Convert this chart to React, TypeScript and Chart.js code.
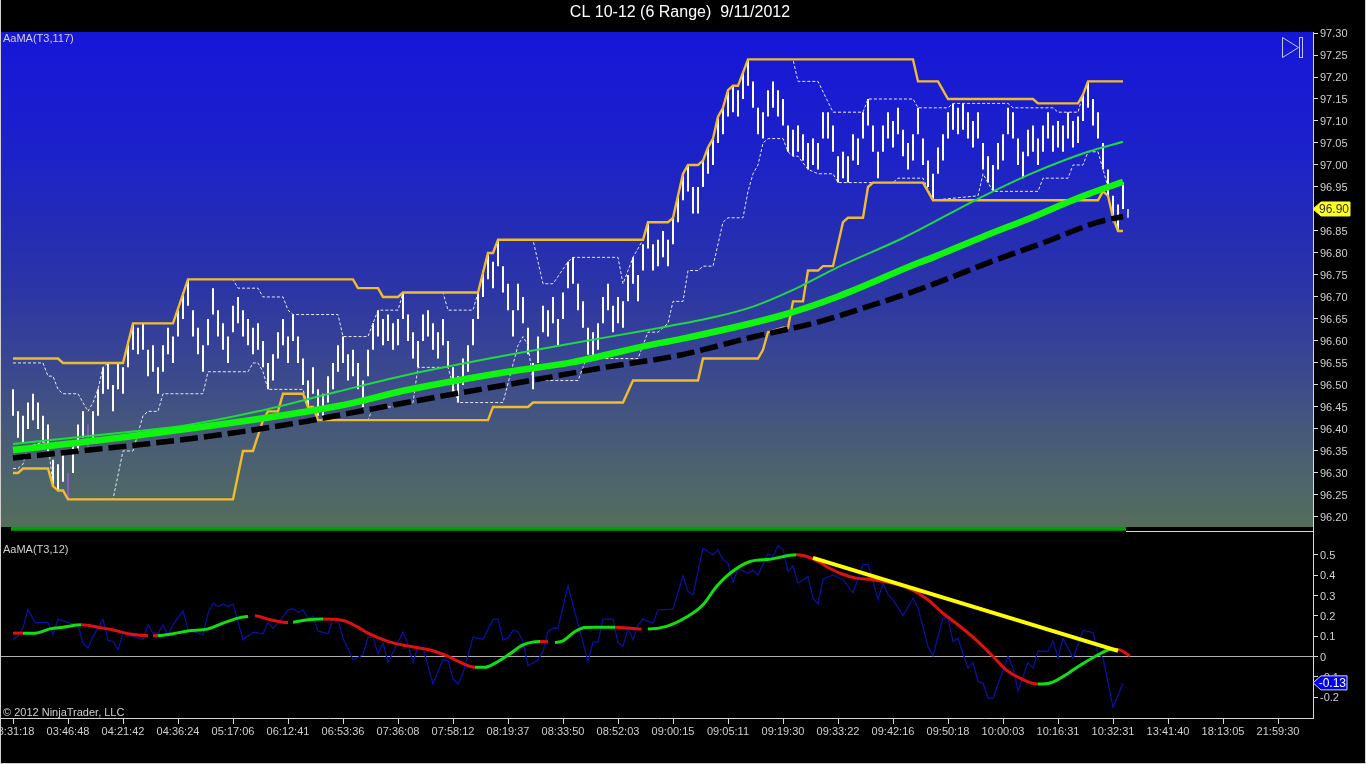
import React, { useEffect, useRef } from 'react';
import { Chart, registerables } from 'chart.js';

Chart.register(...registerables);

// range bars, one per index
const barHighs = [
  96.49, 96.44, 96.43, 96.46, 96.48, 96.46, 96.43, 96.41, 96.33, 96.32,
  96.34, 96.30, 96.36, 96.41, 96.44, 96.41, 96.44, 96.49, 96.54, 96.55,
  96.50, 96.55, 96.54, 96.60, 96.64, 96.63, 96.64, 96.58, 96.59, 96.54,
  96.59, 96.63, 96.61, 96.67, 96.71, 96.74, 96.67, 96.63, 96.59, 96.65,
  96.72, 96.67, 96.64, 96.61, 96.68, 96.70, 96.67, 96.65, 96.63, 96.64,
  96.60, 96.55, 96.57, 96.62, 96.65, 96.61, 96.66, 96.61, 96.56, 96.51,
  96.54, 96.49, 96.48, 96.52, 96.55, 96.59, 96.61, 96.57, 96.58, 96.55,
  96.51, 96.58, 96.64, 96.67, 96.65, 96.66, 96.64, 96.65, 96.71, 96.66,
  96.62, 96.60, 96.66, 96.67, 96.64, 96.62, 96.65, 96.60, 96.54, 96.52,
  96.56, 96.59, 96.65, 96.71, 96.76, 96.80, 96.78, 96.83, 96.77, 96.73,
  96.67, 96.73, 96.70, 96.63, 96.55, 96.61, 96.68, 96.67, 96.70, 96.65,
  96.71, 96.78, 96.79, 96.73, 96.69, 96.63, 96.62, 96.64, 96.70, 96.73,
  96.68, 96.70, 96.69, 96.75, 96.79, 96.75, 96.82, 96.87, 96.82, 96.83,
  96.85, 96.83, 96.88, 96.93, 96.98, 97.00, 96.95, 96.95, 97.01, 97.04,
  97.06, 97.11, 97.13, 97.17, 97.18, 97.17, 97.21, 97.24, 97.19, 97.13,
  97.12, 97.17, 97.19, 97.17, 97.15, 97.09, 97.08, 97.09, 97.07, 97.05,
  97.06, 97.05, 97.12, 97.12, 97.09, 97.02, 97.03, 97.02, 97.07, 97.06,
  97.12, 97.15, 97.09, 97.03, 97.09, 97.12, 97.10, 97.13, 97.08, 97.05,
  97.07, 97.13, 97.06, 97.01, 96.98, 97.04, 97.07, 97.12, 97.14, 97.13,
  97.14, 97.12, 97.10, 97.12, 97.05, 97.02, 97.00, 97.05, 97.07, 97.13,
  97.12, 97.06, 97.03, 97.08, 97.09, 97.06, 97.09, 97.12, 97.09, 97.10,
  97.09, 97.12, 97.10, 97.11, 97.16, 97.19, 97.15, 97.12, 97.05, 96.99,
  96.93, 96.91, 96.96, 96.90,
];
const barLows = [
  96.43, 96.38, 96.37, 96.40, 96.42, 96.40, 96.37, 96.35, 96.27, 96.26,
  96.28, 96.24, 96.30, 96.35, 96.38, 96.35, 96.38, 96.43, 96.48, 96.49,
  96.44, 96.49, 96.48, 96.54, 96.58, 96.57, 96.58, 96.52, 96.53, 96.48,
  96.53, 96.57, 96.55, 96.61, 96.65, 96.68, 96.61, 96.57, 96.53, 96.59,
  96.66, 96.61, 96.58, 96.55, 96.62, 96.64, 96.61, 96.59, 96.57, 96.58,
  96.54, 96.49, 96.51, 96.56, 96.59, 96.55, 96.60, 96.55, 96.50, 96.45,
  96.48, 96.43, 96.42, 96.46, 96.49, 96.53, 96.55, 96.51, 96.52, 96.49,
  96.45, 96.52, 96.58, 96.61, 96.59, 96.60, 96.58, 96.59, 96.65, 96.60,
  96.56, 96.54, 96.60, 96.61, 96.58, 96.56, 96.59, 96.54, 96.48, 96.46,
  96.50, 96.53, 96.59, 96.65, 96.70, 96.74, 96.72, 96.77, 96.71, 96.67,
  96.61, 96.67, 96.64, 96.57, 96.49, 96.55, 96.62, 96.61, 96.64, 96.59,
  96.65, 96.72, 96.73, 96.67, 96.63, 96.57, 96.56, 96.58, 96.64, 96.67,
  96.62, 96.64, 96.63, 96.69, 96.73, 96.69, 96.76, 96.81, 96.76, 96.77,
  96.79, 96.77, 96.82, 96.87, 96.92, 96.94, 96.89, 96.89, 96.95, 96.98,
  97.00, 97.05, 97.07, 97.11, 97.12, 97.11, 97.15, 97.18, 97.13, 97.07,
  97.06, 97.11, 97.13, 97.11, 97.09, 97.03, 97.02, 97.03, 97.01, 96.99,
  97.00, 96.99, 97.06, 97.06, 97.03, 96.96, 96.97, 96.96, 97.01, 97.00,
  97.06, 97.09, 97.03, 96.97, 97.03, 97.06, 97.04, 97.07, 97.02, 96.99,
  97.01, 97.07, 97.00, 96.95, 96.92, 96.98, 97.01, 97.06, 97.08, 97.07,
  97.08, 97.06, 97.04, 97.06, 96.99, 96.96, 96.94, 96.99, 97.01, 97.07,
  97.06, 97.00, 96.97, 97.02, 97.03, 97.00, 97.03, 97.06, 97.03, 97.04,
  97.03, 97.06, 97.04, 97.05, 97.10, 97.13, 97.09, 97.06, 96.99, 96.93,
  96.87, 96.85, 96.90, 96.88,
];
const purpleBars = [11, 15];
const lastBar = 223;

// outer price channel (orange)
const upperX = [0, 9, 10, 22, 24, 32, 35, 68, 69, 73, 74, 77, 78, 93, 95, 96, 97, 126, 127, 131, 132, 133, 134, 135, 137, 138, 139, 140, 141, 142, 143, 144, 145, 146, 147, 180, 181, 185, 187, 204, 205, 213, 214, 215, 222];
const upperY = [96.56, 96.56, 96.55, 96.55, 96.64, 96.64, 96.74, 96.74, 96.72, 96.72, 96.70, 96.70, 96.71, 96.71, 96.80, 96.80, 96.83, 96.83, 96.87, 96.87, 96.88, 96.93, 96.98, 97.00, 97.00, 97.01, 97.04, 97.06, 97.11, 97.13, 97.17, 97.18, 97.18, 97.21, 97.24, 97.24, 97.19, 97.19, 97.15, 97.15, 97.14, 97.14, 97.16, 97.19, 97.19];
const lowerX = [0, 1, 2, 7, 8, 9, 10, 11, 44, 46, 48, 50, 51, 53, 54, 58, 59, 60, 61, 95, 96, 103, 104, 122, 124, 137, 138, 149, 150, 151, 154, 155, 156, 158, 159, 161, 162, 164, 166, 167, 170, 171, 172, 182, 184, 217, 218, 219, 220, 221, 222];
const lowerY = [96.30, 96.30, 96.31, 96.31, 96.27, 96.26, 96.26, 96.24, 96.24, 96.35, 96.35, 96.42, 96.44, 96.44, 96.48, 96.48, 96.45, 96.45, 96.42, 96.42, 96.45, 96.45, 96.46, 96.46, 96.51, 96.51, 96.56, 96.56, 96.58, 96.62, 96.63, 96.63, 96.69, 96.69, 96.76, 96.76, 96.77, 96.77, 96.87, 96.88, 96.88, 96.95, 96.96, 96.96, 96.92, 96.92, 96.94, 96.93, 96.88, 96.85, 96.85];

// inner channel (white dashes)
const shortUpperX = [0, 6, 7, 8, 9, 10, 13, 15, 16, 17, 18, 19, 22, 24, 32, 35, 44, 45, 49, 50, 54, 55, 56, 65, 66, 71, 73, 77, 78, 86, 87, 92, 93, 95, 96, 97, 104, 106, 108, 111, 112, 121, 122, 124, 126, 127, 131, 132, 133, 134, 135, 137, 138, 139, 140, 141, 142, 143, 144, 145, 146, 147, 156, 157, 161, 164, 170, 171, 180, 181, 187, 188, 199, 200, 208, 209, 213, 214, 215, 222];
const shortUpperY = [96.55, 96.55, 96.52, 96.52, 96.49, 96.48, 96.48, 96.44, 96.46, 96.49, 96.54, 96.55, 96.55, 96.64, 96.64, 96.74, 96.74, 96.72, 96.72, 96.70, 96.70, 96.67, 96.66, 96.66, 96.61, 96.61, 96.67, 96.67, 96.71, 96.71, 96.67, 96.67, 96.71, 96.80, 96.80, 96.83, 96.83, 96.73, 96.73, 96.78, 96.79, 96.79, 96.73, 96.79, 96.83, 96.87, 96.87, 96.88, 96.93, 96.98, 97.00, 97.00, 97.01, 97.04, 97.06, 97.11, 97.13, 97.17, 97.18, 97.18, 97.21, 97.24, 97.24, 97.19, 97.19, 97.12, 97.12, 97.15, 97.15, 97.13, 97.13, 97.14, 97.14, 97.13, 97.13, 97.12, 97.12, 97.16, 97.19, 97.19];
const shortLowerX = [0, 1, 2, 3, 6, 7, 8, 9, 10, 11, 20, 22, 24, 26, 27, 29, 30, 38, 39, 47, 48, 49, 50, 51, 58, 59, 60, 61, 71, 72, 76, 80, 81, 87, 89, 98, 101, 102, 103, 104, 113, 115, 116, 125, 127, 129, 131, 132, 134, 135, 137, 138, 140, 142, 143, 146, 147, 148, 149, 150, 151, 154, 155, 156, 157, 159, 161, 164, 165, 176, 177, 182, 184, 193, 194, 195, 196, 205, 206, 211, 212, 214, 215, 217, 218, 219];
const shortLowerY = [96.31, 96.31, 96.32, 96.36, 96.37, 96.37, 96.27, 96.26, 96.26, 96.24, 96.24, 96.35, 96.35, 96.43, 96.44, 96.44, 96.48, 96.48, 96.53, 96.53, 96.55, 96.55, 96.53, 96.49, 96.49, 96.45, 96.45, 96.42, 96.42, 96.45, 96.45, 96.46, 96.54, 96.54, 96.46, 96.46, 96.59, 96.61, 96.59, 96.51, 96.51, 96.57, 96.56, 96.56, 96.62, 96.62, 96.64, 96.69, 96.69, 96.76, 96.76, 96.77, 96.77, 96.87, 96.88, 96.88, 96.94, 96.98, 97.00, 97.05, 97.06, 97.06, 97.03, 97.02, 97.02, 96.99, 96.98, 96.98, 96.96, 96.96, 96.97, 96.97, 96.92, 96.93, 96.98, 96.96, 96.94, 96.94, 96.97, 96.97, 97.00, 97.00, 97.03, 97.03, 96.99, 96.95];

// moving averages
const fastMaX = [0, 24, 35, 49, 65, 79, 99, 112, 127, 141, 148, 156, 165, 178, 193, 204, 215, 222];
const fastMaY = [96.366, 96.394, 96.409, 96.44, 96.485, 96.523, 96.568, 96.595, 96.625, 96.656, 96.678, 96.716, 96.768, 96.834, 96.923, 96.982, 97.03, 97.053];
const midMaX = [0, 24, 65, 79, 99, 112, 127, 133, 154, 165, 181, 184, 194, 204, 213, 222];
const midMaY = [96.352, 96.384, 96.452, 96.489, 96.53, 96.552, 96.59, 96.603, 96.659, 96.701, 96.777, 96.79, 96.837, 96.882, 96.925, 96.962];
const slowMaX = [0, 37, 57, 66, 85, 101, 119, 133, 148, 161, 172, 181, 197, 206, 217, 222];
const slowMaY = [96.334, 96.38, 96.414, 96.433, 96.473, 96.505, 96.541, 96.567, 96.609, 96.643, 96.682, 96.716, 96.786, 96.823, 96.87, 96.883];

// green strip along the bottom of the price panel
const stripX = [-0.4, 222.6];
const stripY = [96.173, 96.173];

const priceTicks = [
  97.3, 97.25, 97.2, 97.15, 97.1, 97.05, 97.0, 96.95, 96.9, 96.85, 96.8, 96.75,
  96.7, 96.65, 96.6, 96.55, 96.5, 96.45, 96.4, 96.35, 96.3, 96.25, 96.2,
];
const lastPrice = 96.9;

// oscillator panel
const oscX = [0, 1, 2, 3, 4.4, 7, 8, 9, 11, 13, 14, 15, 16, 18, 19, 20, 21, 22, 26, 27, 28, 29, 30, 31, 32, 34, 35, 38, 39, 40, 41, 42, 43, 44, 46, 48, 50, 51, 52, 53, 55, 56, 57, 58, 59, 60, 61, 63, 64, 65, 66, 68, 70, 71, 72, 73, 74, 75, 78, 79, 80, 81, 82, 84, 86, 87, 88, 89, 90, 92, 94, 96, 97, 98, 99, 100, 101, 102, 103, 105, 106, 107, 108, 109, 111, 115, 116, 117, 118, 120, 121, 122, 123, 124, 125, 126, 128, 129, 132, 134, 135, 136, 138, 140, 141, 142, 143, 144, 145, 147, 148, 149, 151, 152, 153, 154, 155, 156, 157, 159, 160, 161, 162, 164, 166, 168, 170, 171, 172, 173, 174, 175, 176, 178, 180, 181, 183, 184, 185, 186, 187, 188, 189, 191, 192, 193, 194, 195, 196, 199, 200, 201, 203, 204, 205, 207, 208, 209, 210, 212, 214, 216, 217, 218, 220, 222];
const oscY = [0.085, 0.099, 0.14, 0.233, 0.167, 0.167, 0.107, 0.184, 0.167, 0.156, 0.066, 0.041, 0.099, 0.184, 0.079, 0.074, 0.033, 0.115, 0.082, 0.156, 0.115, 0.115, 0.156, 0.102, 0.156, 0.225, 0.131, 0.107, 0.213, 0.263, 0.246, 0.259, 0.246, 0.259, 0.082, 0.12, 0.112, 0.167, 0.14, 0.164, 0.23, 0.235, 0.218, 0.23, 0.189, 0.197, 0.126, 0.112, 0.181, 0.181, 0.09, -0.016, 0.008, 0.094, 0.094, 0.013, 0.066, -0.028, 0.12, 0.057, -0.028, 0.049, 0.041, -0.135, -0.016, -0.02, -0.11, -0.135, -0.082, 0.095, 0.085, 0.184, 0.184, 0.082, 0.09, 0.128, 0.123, 0.074, -0.046, -0.016, 0.025, 0.123, 0.14, 0.14, 0.348, -0.025, 0.071, 0.071, 0.184, 0.184, 0.066, 0.049, 0.14, 0.082, 0.156, 0.184, 0.164, 0.23, 0.233, 0.397, 0.32, 0.304, 0.534, 0.5, 0.525, 0.476, 0.46, 0.365, 0.435, 0.41, 0.424, 0.402, 0.506, 0.493, 0.545, 0.525, 0.419, 0.447, 0.361, 0.394, 0.287, 0.259, 0.381, 0.402, 0.378, 0.315, 0.452, 0.455, 0.369, 0.282, 0.361, 0.304, 0.279, 0.202, 0.287, 0.238, 0.049, 0.003, 0.099, 0.189, 0.189, 0.074, 0.09, -0.057, -0.03, -0.123, -0.131, -0.205, -0.205, 0, -0.057, -0.169, -0.03, -0.057, 0.028, 0.025, 0.079, -0.008, 0.09, -0.008, 0.128, 0.118, 0.016, -0.008, -0.25, -0.131];

// smoothed T3: trend applies to the piece that starts at that point (1 up, -1 down, 0 no line)
const t3X = [0, 2, 4.4, 7.4, 10, 13.7, 17, 20, 23, 27, 28, 29, 32, 35, 39, 42, 45, 47, 48.4, 51, 55, 56, 59, 62, 66, 68.7, 71, 75, 77, 81.4, 84, 87, 89.4, 92.4, 94.4, 96.4, 99.4, 102, 105.4, 107, 108.4, 110, 112.4, 114.4, 116.4, 120.4, 123, 125.7, 127, 130.7, 134.7, 138, 140.7, 143.4, 147.4, 151.4, 156.7, 160, 162.7, 165.4, 168.7, 172, 178.6, 182.6, 186, 188.6, 192.6, 196, 198.6, 201.4, 205, 207.4, 210, 213.6, 217.6, 219.6, 221, 221.6, 223.4];
const t3Y = [0.115, 0.115, 0.115, 0.136, 0.144, 0.156, 0.144, 0.131, 0.112, 0.103, 0.103, 0.103, 0.112, 0.126, 0.136, 0.164, 0.189, 0.197, 0.2, 0.184, 0.167, 0.169, 0.181, 0.184, 0.177, 0.148, 0.115, 0.074, 0.061, 0.041, 0.028, 0, -0.028, -0.053, -0.053, -0.033, 0.013, 0.057, 0.074, 0.072, 0.069, 0.077, 0.123, 0.143, 0.144, 0.144, 0.14, 0.135, 0.135, 0.148, 0.194, 0.255, 0.345, 0.41, 0.468, 0.479, 0.501, 0.481, 0.443, 0.41, 0.386, 0.378, 0.342, 0.287, 0.213, 0.164, 0.082, 0, -0.066, -0.107, -0.136, -0.131, -0.099, -0.041, 0.016, 0.036, 0.034, 0.03, 0.003];
const t3Trend = [-1, 1, 1, 1, 1, -1, -1, -1, -1, 0, -1, 1, 1, 1, 1, 1, 1, 0, -1, -1, 0, 1, 1, -1, -1, -1, -1, -1, -1, -1, -1, -1, -1, 1, 1, 1, 1, 1, -1, 0, 1, 1, 1, 1, 1, -1, -1, 0, 1, 1, 1, 1, 1, 1, 1, 1, -1, -1, -1, -1, -1, -1, -1, -1, -1, -1, -1, -1, -1, -1, 1, 1, 1, 1, 1, 1, -1, -1, -1];

// trend line drawn over the oscillator
const trendX = [160, 221];
const trendY = [0.486, 0.028];

const oscTicks = [0.5, 0.4, 0.3, 0.2, 0.1, 0, -0.1, -0.2];
const lastOsc = -0.13;

const timeLabels = [
  '03:31:18', '03:46:48', '04:21:42', '04:36:24', '05:17:06', '06:12:41', '06:53:36', '07:36:08',
  '07:58:12', '08:19:37', '08:33:50', '08:52:03', '09:00:15', '09:05:11', '09:19:30', '09:33:22',
  '09:42:16', '09:50:18', '10:00:03', '10:16:31', '10:32:31', '13:41:40', '18:13:05', '21:59:30',
];
const barsPerLabel = 11;

const FONT = "'Liberation Sans', Arial, sans-serif";
const AXIS = '#d8d8d8';
const TEXT = '#cfcfcf';
const X_MIN = -2.4;
const X_MAX = 260;

const toPoints = (xs: number[], ys: number[]) => xs.map((x, i) => ({ x, y: ys[i] }));

const yAxisCommon = {
  position: 'right' as const,
  border: { color: AXIS },
  ticks: { color: TEXT, font: { family: FONT, size: 11 }, padding: 2, autoSkip: false, crossAlign: 'near' as const, labelOffset: 1 },
  afterFit: (s: any) => {
    s.width = 53;
    s.paddingTop = 0;
    s.paddingBottom = 0;
  },
};

const drawCaption = (ctx: CanvasRenderingContext2D, text: string, x: number, y: number) => {
  ctx.font = `11px ${FONT}`;
  ctx.fillStyle = TEXT;
  ctx.textAlign = 'left';
  ctx.textBaseline = 'middle';
  ctx.fillText(text, x, y);
};

const drawTag = (chart: any, value: number, label: string, fill: string, stroke: string, color: string, right: number) => {
  const { ctx, chartArea } = chart;
  const y = chart.scales.y.getPixelForValue(value);
  const left = chartArea.right;
  ctx.save();
  ctx.beginPath();
  ctx.moveTo(left, y);
  ctx.lineTo(left + 8, y - 7);
  ctx.lineTo(right, y - 7);
  ctx.lineTo(right, y + 7);
  ctx.lineTo(left + 8, y + 7);
  ctx.closePath();
  ctx.fillStyle = fill;
  ctx.fill();
  ctx.strokeStyle = stroke;
  ctx.stroke();
  ctx.font = `12px ${FONT}`;
  ctx.fillStyle = color;
  ctx.textAlign = 'right';
  ctx.textBaseline = 'middle';
  ctx.fillText(label, right - 1, y + 0.5);
  ctx.restore();
};

const priceDecor = {
  id: 'priceDecor',
  beforeDraw(chart: any) {
    const { ctx, chartArea: a } = chart;
    // the gradient stops 4px short of the panel bottom, the strip sits on black
    const bottom = a.bottom - 4;
    const g = ctx.createLinearGradient(0, a.top, 0, bottom);
    g.addColorStop(0, '#1616d8');
    g.addColorStop(0.25, '#1c22c8');
    g.addColorStop(0.5, '#2a33a8');
    g.addColorStop(0.7, '#3c4a8c');
    g.addColorStop(0.85, '#4a5f72');
    g.addColorStop(1, '#546e5c');
    ctx.save();
    ctx.fillStyle = g;
    ctx.fillRect(a.left, a.top, a.right - a.left, bottom - a.top);
    ctx.restore();
  },
  afterDraw(chart: any) {
    const { ctx } = chart;
    ctx.save();
    ctx.font = `16px ${FONT}`;
    ctx.fillStyle = '#ffffff';
    ctx.textAlign = 'center';
    ctx.textBaseline = 'middle';
    ctx.fillText('CL 10-12 (6 Range)  9/11/2012', 680, 13);
    drawCaption(ctx, 'AaMA(T3,117)', 3, 39);
    // chart trader arrow glyph
    ctx.strokeStyle = '#c0c8f0';
    ctx.lineWidth = 1;
    ctx.beginPath();
    ctx.moveTo(1282.5, 37.5);
    ctx.lineTo(1282.5, 57.5);
    ctx.lineTo(1298.5, 47.5);
    ctx.closePath();
    ctx.stroke();
    ctx.strokeRect(1299.5, 37.5, 3, 20);
    ctx.restore();
    drawTag(chart, lastPrice, lastPrice.toFixed(2), '#ffff20', '#ffff20', '#333', 1350);
  },
};

const oscDecor = {
  id: 'oscDecor',
  afterDraw(chart: any) {
    const { ctx, chartArea: a } = chart;
    ctx.save();
    ctx.strokeStyle = AXIS;
    ctx.lineWidth = 1;
    ctx.beginPath();
    ctx.moveTo(1126, a.top + 0.5);
    ctx.lineTo(a.right, a.top + 0.5);
    ctx.stroke();
    drawCaption(ctx, 'AaMA(T3,12)', 3, 19);
    drawCaption(ctx, '© 2012 NinjaTrader, LLC', 3, 182);
    ctx.restore();
    drawTag(chart, lastOsc, lastOsc.toFixed(2), '#0000e8', '#d0d8ff', '#ffffff', 1347);
  },
};

const App: React.FC = () => {
  const priceRef = useRef<HTMLCanvasElement>(null);
  const oscRef = useRef<HTMLCanvasElement>(null);

  useEffect(() => {
    const line = { pointRadius: 0, fill: false, type: 'line' as const };
    const priceChart = new Chart(priceRef.current!, {
      type: 'bar',
      data: {
        datasets: [
          { ...line, data: toPoints(stripX, stripY), borderColor: '#00a000', borderWidth: 4 },
          { ...line, data: toPoints(slowMaX, slowMaY), borderColor: '#000000', borderWidth: 5.5, borderDash: [18, 6], cubicInterpolationMode: 'monotone' },
          { ...line, data: toPoints(midMaX, midMaY), borderColor: '#10f510', borderWidth: 6.5, cubicInterpolationMode: 'monotone' },
          { ...line, data: toPoints(fastMaX, fastMaY), borderColor: '#20d840', borderWidth: 2, cubicInterpolationMode: 'monotone' },
          { ...line, data: toPoints(upperX, upperY), borderColor: '#f0bc2c', borderWidth: 2.4 },
          { ...line, data: toPoints(lowerX, lowerY), borderColor: '#f0bc2c', borderWidth: 2.4 },
          { ...line, data: toPoints(shortUpperX, shortUpperY), borderColor: '#e8e8f0', borderWidth: 1, borderDash: [3, 2] },
          { ...line, data: toPoints(shortLowerX, shortLowerY), borderColor: '#e8e8f0', borderWidth: 1, borderDash: [3, 2] },
          {
            type: 'bar',
            data: barHighs.map((h, i) => ({ x: i, y: [barLows[i], h] })),
            barThickness: 2,
            inflateAmount: 0,
            backgroundColor: (c: any) =>
              c.dataIndex === lastBar ? '#b8c0e0' : purpleBars.includes(c.dataIndex) ? '#8a58c0' : '#ffffff',
          },
        ] as any,
      },
      options: {
        animation: false,
        responsive: false,
        devicePixelRatio: 1,
        layout: { padding: { left: 1, right: 0, top: 32, bottom: 0 } },
        plugins: {
          legend: { display: false },
          tooltip: { enabled: false },
        },
        scales: {
          x: { type: 'linear', display: false, min: X_MIN, max: X_MAX, offset: false },
          y: {
            ...yAxisCommon,
            min: 96.168,
            max: 97.3023,
            grid: { drawOnChartArea: false, tickLength: 5, tickColor: AXIS },
            afterBuildTicks: (s: any) => {
              s.ticks = priceTicks.map((value) => ({ value }));
            },
            ticks: { ...yAxisCommon.ticks, callback: (v: any) => Number(v).toFixed(2) },
          },
        },
      } as any,
      plugins: [priceDecor],
    });

    const oscChart = new Chart(oscRef.current!, {
      type: 'line',
      data: {
        datasets: [
          { ...line, data: toPoints(trendX, trendY), borderColor: '#ffff00', borderWidth: 4 },
          {
            ...line,
            data: toPoints(t3X, t3Y),
            borderWidth: 3,
            borderColor: '#e01010',
            cubicInterpolationMode: 'monotone',
            segment: {
              borderColor: (c: any) => {
                const t = t3Trend[c.p0DataIndex];
                return t === 0 ? 'rgba(0,0,0,0)' : t > 0 ? '#10e010' : '#e01010';
              },
            },
          },
          { ...line, data: toPoints(oscX, oscY), borderColor: '#0a10a8', borderWidth: 1.25 },
        ] as any,
      },
      options: {
        animation: false,
        responsive: false,
        devicePixelRatio: 1,
        layout: { padding: { left: 1, right: 0, top: 0, bottom: 0 } },
        plugins: { legend: { display: false }, tooltip: { enabled: false } },
        scales: {
          x: {
            type: 'linear',
            min: X_MIN,
            max: X_MAX,
            border: { color: AXIS },
            grid: { drawOnChartArea: false, tickLength: 6, tickColor: AXIS },
            afterBuildTicks: (s: any) => {
              s.ticks = timeLabels.map((_, i) => ({ value: i * barsPerLabel }));
            },
            afterFit: (s: any) => {
              s.height = 46;
              s.paddingLeft = 0;
              s.paddingRight = 0;
            },
            ticks: {
              color: TEXT,
              font: { family: FONT, size: 11 },
              padding: 1,
              autoSkip: false,
              maxRotation: 0,
              minRotation: 0,
              callback: (v: any) => timeLabels[Math.round(Number(v) / barsPerLabel)],
            },
          },
          y: {
            ...yAxisCommon,
            min: -0.303,
            max: 0.618,
            grid: {
              tickLength: 5,
              tickColor: AXIS,
              color: (c: any) => (c.tick && c.tick.value === 0 ? '#b0b0b0' : 'rgba(0,0,0,0)'),
            },
            afterBuildTicks: (s: any) => {
              s.ticks = oscTicks.map((value) => ({ value }));
            },
            ticks: { ...yAxisCommon.ticks, callback: (v: any) => (Number(v) === 0 ? '0' : Number(v).toFixed(1)) },
          },
        },
      } as any,
      plugins: [oscDecor],
    });

    return () => {
      priceChart.destroy();
      oscChart.destroy();
    };
  }, []);

  return (
    <div
      style={{
        position: 'fixed',
        left: 0,
        top: 0,
        width: 1366,
        height: 764,
        background: '#000',
        overflow: 'hidden',
      }}
    >
      <canvas ref={priceRef} width={1366} height={531} style={{ position: 'absolute', left: 0, top: 0 }} />
      <canvas ref={oscRef} width={1366} height={233} style={{ position: 'absolute', left: 0, top: 531 }} />
      <div
        style={{
          position: 'absolute',
          left: 0,
          top: 0,
          width: 1366,
          height: 764,
          boxSizing: 'border-box',
          borderLeft: '1px solid #d0d0d0',
          borderRight: '1px solid #d0d0d0',
          borderBottom: '1px solid #d0d0d0',
        }}
      />
    </div>
  );
};

export default App;
